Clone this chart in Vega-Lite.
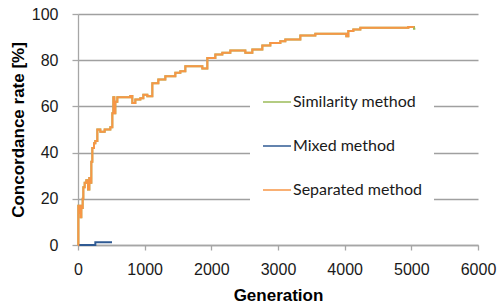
{
  "$schema": "https://vega.github.io/schema/vega-lite/v6.json",
  "width": 400,
  "height": 231,
  "autosize": {"type": "none"},
  "padding": {"left": 78, "top": 14, "right": 20, "bottom": 61},
  "background": "white",
  "config": {
    "view": {"stroke": null},
    "axis": {
      "labelFont": "Liberation Sans",
      "labelFontSize": 16,
      "labelColor": "#1a1a1a",
      "titleFont": "Liberation Sans",
      "titleFontSize": 17,
      "titleFontWeight": "bold",
      "titleColor": "#000000",
      "domainColor": "#a6a6a6",
      "tickColor": "#a6a6a6",
      "gridColor": "#a0a0a0",
      "gridWidth": 1.3,
      "domainWidth": 1.3,
      "tickWidth": 1.3
    }
  },
  "data": {
    "values": [
      {"method": "Similarity method", "gen": 0, "rate": 0},
      {"method": "Similarity method", "gen": 5, "rate": 17},
      {"method": "Similarity method", "gen": 20, "rate": 14},
      {"method": "Similarity method", "gen": 30, "rate": 17},
      {"method": "Similarity method", "gen": 40, "rate": 12},
      {"method": "Similarity method", "gen": 50, "rate": 16},
      {"method": "Similarity method", "gen": 70, "rate": 20},
      {"method": "Similarity method", "gen": 80, "rate": 25},
      {"method": "Similarity method", "gen": 100, "rate": 27},
      {"method": "Similarity method", "gen": 125, "rate": 28},
      {"method": "Similarity method", "gen": 150, "rate": 24},
      {"method": "Similarity method", "gen": 170, "rate": 29},
      {"method": "Similarity method", "gen": 185, "rate": 27},
      {"method": "Similarity method", "gen": 200, "rate": 36},
      {"method": "Similarity method", "gen": 215, "rate": 42},
      {"method": "Similarity method", "gen": 240, "rate": 44},
      {"method": "Similarity method", "gen": 260, "rate": 45},
      {"method": "Similarity method", "gen": 290, "rate": 50},
      {"method": "Similarity method", "gen": 335, "rate": 49},
      {"method": "Similarity method", "gen": 400, "rate": 50},
      {"method": "Similarity method", "gen": 485, "rate": 51},
      {"method": "Similarity method", "gen": 515, "rate": 57},
      {"method": "Similarity method", "gen": 530, "rate": 64},
      {"method": "Similarity method", "gen": 545, "rate": 57},
      {"method": "Similarity method", "gen": 560, "rate": 62},
      {"method": "Similarity method", "gen": 590, "rate": 64},
      {"method": "Similarity method", "gen": 785, "rate": 64.5},
      {"method": "Similarity method", "gen": 815, "rate": 61.5},
      {"method": "Similarity method", "gen": 860, "rate": 63},
      {"method": "Similarity method", "gen": 935, "rate": 63.5},
      {"method": "Similarity method", "gen": 980, "rate": 65},
      {"method": "Similarity method", "gen": 1040, "rate": 64.4},
      {"method": "Similarity method", "gen": 1115, "rate": 70},
      {"method": "Similarity method", "gen": 1205, "rate": 71.6},
      {"method": "Similarity method", "gen": 1310, "rate": 73},
      {"method": "Similarity method", "gen": 1460, "rate": 74.6},
      {"method": "Similarity method", "gen": 1535, "rate": 75.2},
      {"method": "Similarity method", "gen": 1610, "rate": 77.4},
      {"method": "Similarity method", "gen": 1865, "rate": 76.4},
      {"method": "Similarity method", "gen": 1940, "rate": 81},
      {"method": "Similarity method", "gen": 2060, "rate": 82.5},
      {"method": "Similarity method", "gen": 2165, "rate": 83.2},
      {"method": "Similarity method", "gen": 2285, "rate": 84.2},
      {"method": "Similarity method", "gen": 2510, "rate": 83.2},
      {"method": "Similarity method", "gen": 2615, "rate": 84.6},
      {"method": "Similarity method", "gen": 2765, "rate": 86.4},
      {"method": "Similarity method", "gen": 2885, "rate": 87.5},
      {"method": "Similarity method", "gen": 3035, "rate": 88.2},
      {"method": "Similarity method", "gen": 3110, "rate": 89},
      {"method": "Similarity method", "gen": 3335, "rate": 90.7},
      {"method": "Similarity method", "gen": 3560, "rate": 91.5},
      {"method": "Similarity method", "gen": 4025, "rate": 90.4},
      {"method": "Similarity method", "gen": 4055, "rate": 92.6},
      {"method": "Similarity method", "gen": 4130, "rate": 93.3},
      {"method": "Similarity method", "gen": 4235, "rate": 94.0},
      {"method": "Similarity method", "gen": 4955, "rate": 94.4},
      {"method": "Similarity method", "gen": 5040, "rate": 93.6},
      {"method": "Similarity method", "gen": 5060, "rate": 93.6},

      {"method": "Mixed method", "gen": 0, "rate": 0},
      {"method": "Mixed method", "gen": 260, "rate": 1.2},
      {"method": "Mixed method", "gen": 510, "rate": 1.2},

      {"method": "Separated method", "gen": 0, "rate": 0},
      {"method": "Separated method", "gen": 5, "rate": 17},
      {"method": "Separated method", "gen": 20, "rate": 14},
      {"method": "Separated method", "gen": 30, "rate": 17},
      {"method": "Separated method", "gen": 40, "rate": 12},
      {"method": "Separated method", "gen": 50, "rate": 16},
      {"method": "Separated method", "gen": 70, "rate": 20},
      {"method": "Separated method", "gen": 80, "rate": 25},
      {"method": "Separated method", "gen": 100, "rate": 27},
      {"method": "Separated method", "gen": 125, "rate": 28},
      {"method": "Separated method", "gen": 150, "rate": 24},
      {"method": "Separated method", "gen": 170, "rate": 29},
      {"method": "Separated method", "gen": 185, "rate": 27},
      {"method": "Separated method", "gen": 200, "rate": 36},
      {"method": "Separated method", "gen": 215, "rate": 42},
      {"method": "Separated method", "gen": 240, "rate": 44},
      {"method": "Separated method", "gen": 260, "rate": 45},
      {"method": "Separated method", "gen": 290, "rate": 50},
      {"method": "Separated method", "gen": 335, "rate": 49},
      {"method": "Separated method", "gen": 400, "rate": 50},
      {"method": "Separated method", "gen": 485, "rate": 51},
      {"method": "Separated method", "gen": 515, "rate": 57},
      {"method": "Separated method", "gen": 530, "rate": 64},
      {"method": "Separated method", "gen": 545, "rate": 57},
      {"method": "Separated method", "gen": 560, "rate": 62},
      {"method": "Separated method", "gen": 590, "rate": 64},
      {"method": "Separated method", "gen": 785, "rate": 64.5},
      {"method": "Separated method", "gen": 815, "rate": 61.5},
      {"method": "Separated method", "gen": 860, "rate": 63},
      {"method": "Separated method", "gen": 935, "rate": 63.5},
      {"method": "Separated method", "gen": 980, "rate": 65},
      {"method": "Separated method", "gen": 1040, "rate": 64.4},
      {"method": "Separated method", "gen": 1115, "rate": 70},
      {"method": "Separated method", "gen": 1205, "rate": 71.6},
      {"method": "Separated method", "gen": 1310, "rate": 73},
      {"method": "Separated method", "gen": 1460, "rate": 74.6},
      {"method": "Separated method", "gen": 1535, "rate": 75.2},
      {"method": "Separated method", "gen": 1610, "rate": 77.4},
      {"method": "Separated method", "gen": 1865, "rate": 76.4},
      {"method": "Separated method", "gen": 1940, "rate": 81},
      {"method": "Separated method", "gen": 2060, "rate": 82.5},
      {"method": "Separated method", "gen": 2165, "rate": 83.2},
      {"method": "Separated method", "gen": 2285, "rate": 84.2},
      {"method": "Separated method", "gen": 2510, "rate": 83.2},
      {"method": "Separated method", "gen": 2615, "rate": 84.6},
      {"method": "Separated method", "gen": 2765, "rate": 86.4},
      {"method": "Separated method", "gen": 2885, "rate": 87.5},
      {"method": "Separated method", "gen": 3035, "rate": 88.2},
      {"method": "Separated method", "gen": 3110, "rate": 89},
      {"method": "Separated method", "gen": 3335, "rate": 90.7},
      {"method": "Separated method", "gen": 3560, "rate": 91.5},
      {"method": "Separated method", "gen": 4025, "rate": 90.4},
      {"method": "Separated method", "gen": 4055, "rate": 92.6},
      {"method": "Separated method", "gen": 4130, "rate": 93.3},
      {"method": "Separated method", "gen": 4235, "rate": 94.0},
      {"method": "Separated method", "gen": 4955, "rate": 94.4},
      {"method": "Separated method", "gen": 5030, "rate": 94.2}
    ]
  },
  "encoding": {
    "x": {
      "field": "gen", "type": "quantitative",
      "scale": {"domain": [0, 6000], "nice": false},
      "axis": {
        "title": "Generation",
        "values": [0, 1000, 2000, 3000, 4000, 5000, 6000],
        "format": "d",
        "grid": false,
        "tickSize": 5,
        "labelPadding": 11,
        "titleY": 42,
        "labelFlush": false
      }
    },
    "y": {
      "field": "rate", "type": "quantitative",
      "scale": {"domain": [0, 100], "nice": false},
      "axis": {
        "title": "Concordance rate [%]",
        "values": [0, 20, 40, 60, 80, 100],
        "grid": true,
        "tickSize": 6,
        "labelPadding": 14,
        "titlePadding": 4
      }
    },
    "color": {
      "field": "method", "type": "nominal",
      "scale": {
        "domain": ["Similarity method", "Mixed method", "Separated method"],
        "range": ["#9bbb59", "#2f5a93", "#f79646"]
      },
      "legend": {
        "title": null,
        "orient": "none",
        "legendX": 172,
        "legendY": 61,
        "fillColor": "white",
        "padding": 12,
        "symbolType": "stroke",
        "symbolSize": 784,
        "symbolStrokeWidth": 1.5,
        "rowPadding": 21,
        "labelOffset": 1,
        "labelFont": "Lato",
        "labelFontSize": 16,
        "labelColor": "#1a1a1a",
        "labelLimit": 300
      }
    }
  },
  "layer": [
    {
      "transform": [{"filter": "datum.method === 'Similarity method'"}],
      "mark": {"type": "line", "interpolate": "step-after", "strokeWidth": 2}
    },
    {
      "transform": [{"filter": "datum.method === 'Mixed method'"}],
      "mark": {"type": "line", "interpolate": "step-after", "strokeWidth": 2}
    },
    {
      "transform": [{"filter": "datum.method === 'Separated method'"}],
      "mark": {"type": "line", "interpolate": "step-after", "strokeWidth": 2}
    }
  ]
}
